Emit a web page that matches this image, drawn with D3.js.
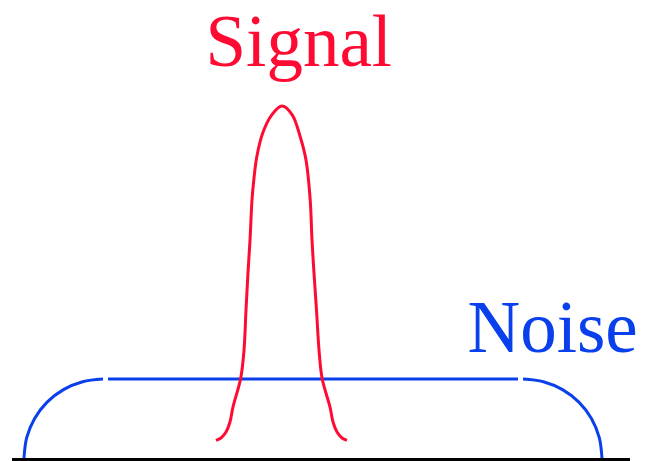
<!DOCTYPE html>
<html>
<head>
<meta charset="utf-8">
<script src="https://cdn.jsdelivr.net/npm/d3@7"></script>
<style>
  body { margin: 0; background: #fff; }
</style>
</head>
<body>
<div id="chart"></div>
<script>
// signal peak
var signalX = [32, 32.83, 33.67, 34.33, 34.83, 36.1, 36.67, 37, 37.33, 37.67, 38, 38.3, 38.8, 39.8, 41.3, 43,
               44.7, 46, 47, 47.7, 48, 48.33, 48.75, 49.17, 49.7, 51, 51.5, 52.17, 53, 53.83];
var signalY = [4.4, 5, 6.5, 9, 12.75, 19.8, 27, 37, 46.3, 54.5, 64.5, 69.5, 75.3, 81.3, 85.8, 88,
               85.8, 80.5, 74.5, 64.5, 54.5, 46.3, 37, 27, 19.8, 12.75, 9, 6.5, 5, 4.4];

// noise floor: rounded left edge, flat part, rounded right edge
var noiseLeftX  = [0, 0.45, 1.77, 3.85, 6.58, 9.77, 13.17];
var noiseLeftY  = [0, 5.1, 9.88, 13.98, 17.1, 19.08, 19.75];
var noiseFlatX  = [14, 82.33];
var noiseLevel  = 19.75;
var noiseRightX = [83.17, 86.57, 89.75, 92.48, 94.57, 95.88, 96.33];
var noiseRightY = [19.75, 19.08, 17.1, 13.98, 9.88, 5.1, 0];

var baseX = [-2, 101];
var baseLevel = -0.4;

var labels = ["Signal", "Noise"];
var labelX = [45.8, 88.1];
var labelY = [98, 26.5];

var width = 646, height = 461;
var red = "#ff0a33", blue = "#0a40ec";

var svg = d3.select("#chart")
    .append("svg")
    .attr("width", width)
    .attr("height", height);

var x = d3.scaleLinear().domain([0, 100]).range([24, 624]);
var y = d3.scaleLinear().domain([0, 100]).range([458, 58]);

var line = d3.line()
    .x(function(d) { return x(d[0]); })
    .y(function(d) { return y(d[1]); })
    .curve(d3.curveCatmullRom.alpha(0.5));

var straight = d3.line()
    .x(function(d) { return x(d[0]); })
    .y(function(d) { return y(d[1]); });

// noise
var noiseLeft = noiseLeftX.map(function(v, i) { return [v, noiseLeftY[i]]; });
var noiseRight = noiseRightX.map(function(v, i) { return [v, noiseRightY[i]]; });
var noiseFlat = noiseFlatX.map(function(v) { return [v, noiseLevel]; });

[noiseLeft, noiseRight].forEach(function(pts) {
    svg.append("path")
        .attr("d", line(pts))
        .attr("fill", "none")
        .attr("stroke", blue)
        .attr("stroke-width", 3);
});

svg.append("path")
    .attr("d", straight(noiseFlat))
    .attr("fill", "none")
    .attr("stroke", blue)
    .attr("stroke-width", 3);

// signal
var signal = signalX.map(function(v, i) { return [v, signalY[i]]; });
svg.append("path")
    .attr("d", line(signal))
    .attr("fill", "none")
    .attr("stroke", red)
    .attr("stroke-width", 3);

// baseline
svg.append("path")
    .attr("d", straight(baseX.map(function(v) { return [v, baseLevel]; })))
    .attr("stroke", "#000")
    .attr("stroke-width", 3);

// labels
svg.selectAll("text.label")
    .data(labels)
    .enter()
    .append("text")
    .attr("class", "label")
    .attr("x", function(d, i) { return x(labelX[i]); })
    .attr("y", function(d, i) { return y(labelY[i]); })
    .attr("text-anchor", "middle")
    .attr("font-family", "Liberation Serif, Times New Roman, serif")
    .attr("font-size", "73px")
    .attr("fill", function(d, i) { return i === 0 ? red : blue; })
    .text(function(d) { return d; });
</script>
</body>
</html>
